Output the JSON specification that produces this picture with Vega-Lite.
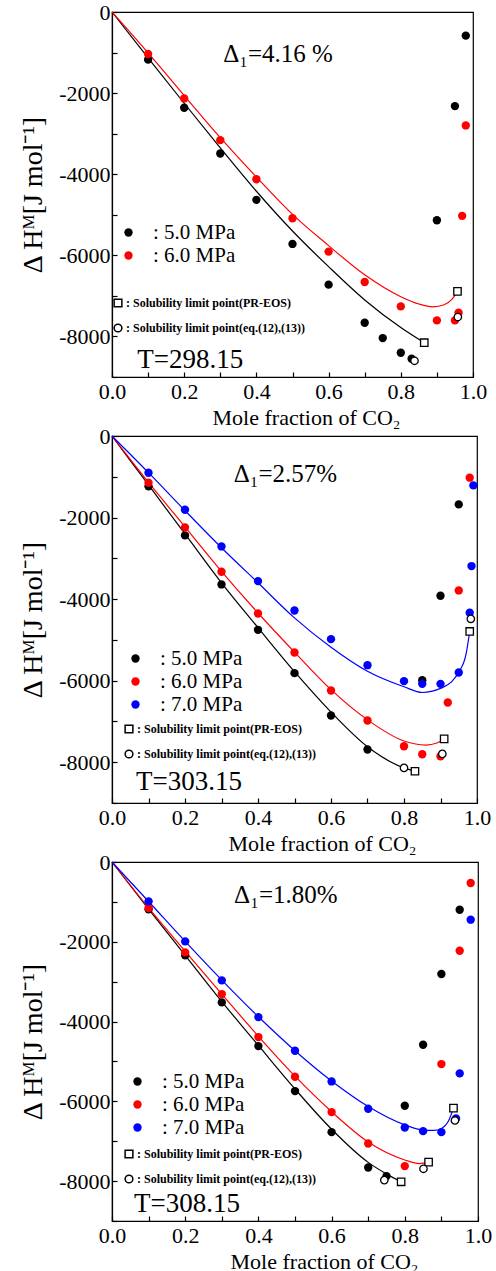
{
"$schema": "https://vega.github.io/schema/vega-lite/v6.json",
"padding": {"left": 19, "top": 0, "right": 5, "bottom": 5},
"background": "white",
"config": {
  "font": "Liberation Serif",
  "view": {"stroke": "black", "strokeWidth": 1.2},
  "axis": {"labelFont": "Liberation Serif", "titleFont": "Liberation Serif", "labelColor": "black", "titleColor": "black", "domainColor": "black", "tickColor": "black", "grid": false, "labelFontSize": 22, "titleFontSize": 22, "titleFontWeight": "normal", "domainWidth": 1.2, "tickWidth": 1.2, "tickSize": -5, "labelFlush": false, "labelOverlap": false},
  "axisX": {"labelPadding": 9, "titleY": 30},
  "axisY": {"labelPadding": 7, "titleFontSize": 28, "titlePadding": 11},
  "legend": {"labelFont": "Liberation Serif", "labelColor": "black", "padding": 0, "labelLimit": 400}
},
"datasets": {
  "pts": [
    {"T":"298.15","p":"5.0 MPa","x":0.1,"y":-1175},{"T":"298.15","p":"5.0 MPa","x":0.2,"y":-2361},{"T":"298.15","p":"5.0 MPa","x":0.3,"y":-3489},{"T":"298.15","p":"5.0 MPa","x":0.4,"y":-4632},{"T":"298.15","p":"5.0 MPa","x":0.5,"y":-5719},{"T":"298.15","p":"5.0 MPa","x":0.6,"y":-6723},{"T":"298.15","p":"5.0 MPa","x":0.7,"y":-7661},{"T":"298.15","p":"5.0 MPa","x":0.75,"y":-8040},{"T":"298.15","p":"5.0 MPa","x":0.8,"y":-8402},{"T":"298.15","p":"5.0 MPa","x":0.83,"y":-8550},{"T":"298.15","p":"5.0 MPa","x":0.9,"y":-5135},{"T":"298.15","p":"5.0 MPa","x":0.95,"y":-2320},{"T":"298.15","p":"5.0 MPa","x":0.98,"y":-583},
    {"T":"298.15","p":"6.0 MPa","x":0.1,"y":-1037},{"T":"298.15","p":"6.0 MPa","x":0.2,"y":-2131},{"T":"298.15","p":"6.0 MPa","x":0.3,"y":-3160},{"T":"298.15","p":"6.0 MPa","x":0.4,"y":-4123},{"T":"298.15","p":"6.0 MPa","x":0.5,"y":-5086},{"T":"298.15","p":"6.0 MPa","x":0.6,"y":-5908},{"T":"298.15","p":"6.0 MPa","x":0.7,"y":-6657},{"T":"298.15","p":"6.0 MPa","x":0.8,"y":-7259},{"T":"298.15","p":"6.0 MPa","x":0.9,"y":-7604},{"T":"298.15","p":"6.0 MPa","x":0.95,"y":-7604},{"T":"298.15","p":"6.0 MPa","x":0.96,"y":-7414},{"T":"298.15","p":"6.0 MPa","x":0.97,"y":-5027},{"T":"298.15","p":"6.0 MPa","x":0.98,"y":-2797},
    {"T":"303.15","p":"5.0 MPa","x":0.1,"y":-1235},{"T":"303.15","p":"5.0 MPa","x":0.2,"y":-2437},{"T":"303.15","p":"5.0 MPa","x":0.3,"y":-3640},{"T":"303.15","p":"5.0 MPa","x":0.4,"y":-4753},{"T":"303.15","p":"5.0 MPa","x":0.5,"y":-5816},{"T":"303.15","p":"5.0 MPa","x":0.6,"y":-6855},{"T":"303.15","p":"5.0 MPa","x":0.7,"y":-7689},{"T":"303.15","p":"5.0 MPa","x":0.85,"y":-5988},{"T":"303.15","p":"5.0 MPa","x":0.9,"y":-3918},{"T":"303.15","p":"5.0 MPa","x":0.95,"y":-1677},
    {"T":"303.15","p":"6.0 MPa","x":0.1,"y":-1145},{"T":"303.15","p":"6.0 MPa","x":0.2,"y":-2241},{"T":"303.15","p":"6.0 MPa","x":0.3,"y":-3329},{"T":"303.15","p":"6.0 MPa","x":0.4,"y":-4352},{"T":"303.15","p":"6.0 MPa","x":0.5,"y":-5309},{"T":"303.15","p":"6.0 MPa","x":0.6,"y":-6242},{"T":"303.15","p":"6.0 MPa","x":0.7,"y":-6978},{"T":"303.15","p":"6.0 MPa","x":0.8,"y":-7607},{"T":"303.15","p":"6.0 MPa","x":0.85,"y":-7804},{"T":"303.15","p":"6.0 MPa","x":0.9,"y":-7853},{"T":"303.15","p":"6.0 MPa","x":0.92,"y":-6536},{"T":"303.15","p":"6.0 MPa","x":0.95,"y":-3787},{"T":"303.15","p":"6.0 MPa","x":0.98,"y":-1022},
    {"T":"303.15","p":"7.0 MPa","x":0.1,"y":-900},{"T":"303.15","p":"7.0 MPa","x":0.2,"y":-1808},{"T":"303.15","p":"7.0 MPa","x":0.3,"y":-2708},{"T":"303.15","p":"7.0 MPa","x":0.4,"y":-3558},{"T":"303.15","p":"7.0 MPa","x":0.5,"y":-4278},{"T":"303.15","p":"7.0 MPa","x":0.6,"y":-4982},{"T":"303.15","p":"7.0 MPa","x":0.7,"y":-5620},{"T":"303.15","p":"7.0 MPa","x":0.8,"y":-6012},{"T":"303.15","p":"7.0 MPa","x":0.85,"y":-6078},{"T":"303.15","p":"7.0 MPa","x":0.9,"y":-6078},{"T":"303.15","p":"7.0 MPa","x":0.95,"y":-5799},{"T":"303.15","p":"7.0 MPa","x":0.98,"y":-4335},{"T":"303.15","p":"7.0 MPa","x":0.985,"y":-3190},{"T":"303.15","p":"7.0 MPa","x":0.99,"y":-1211},
    {"T":"308.15","p":"5.0 MPa","x":0.1,"y":-1187},{"T":"308.15","p":"5.0 MPa","x":0.2,"y":-2341},{"T":"308.15","p":"5.0 MPa","x":0.3,"y":-3520},{"T":"308.15","p":"5.0 MPa","x":0.4,"y":-4615},{"T":"308.15","p":"5.0 MPa","x":0.5,"y":-5743},{"T":"308.15","p":"5.0 MPa","x":0.6,"y":-6772},{"T":"308.15","p":"5.0 MPa","x":0.7,"y":-7658},{"T":"308.15","p":"5.0 MPa","x":0.75,"y":-7875},{"T":"308.15","p":"5.0 MPa","x":0.8,"y":-6111},{"T":"308.15","p":"5.0 MPa","x":0.85,"y":-4581},{"T":"308.15","p":"5.0 MPa","x":0.9,"y":-2809},{"T":"308.15","p":"5.0 MPa","x":0.95,"y":-1196},
    {"T":"308.15","p":"6.0 MPa","x":0.1,"y":-1154},{"T":"308.15","p":"6.0 MPa","x":0.2,"y":-2266},{"T":"308.15","p":"6.0 MPa","x":0.3,"y":-3311},{"T":"308.15","p":"6.0 MPa","x":0.4,"y":-4389},{"T":"308.15","p":"6.0 MPa","x":0.5,"y":-5384},{"T":"308.15","p":"6.0 MPa","x":0.6,"y":-6270},{"T":"308.15","p":"6.0 MPa","x":0.7,"y":-7056},{"T":"308.15","p":"6.0 MPa","x":0.8,"y":-7624},{"T":"308.15","p":"6.0 MPa","x":0.9,"y":-5066},{"T":"308.15","p":"6.0 MPa","x":0.95,"y":-2224},{"T":"308.15","p":"6.0 MPa","x":0.98,"y":-527},
    {"T":"308.15","p":"7.0 MPa","x":0.1,"y":-987},{"T":"308.15","p":"7.0 MPa","x":0.2,"y":-1990},{"T":"308.15","p":"7.0 MPa","x":0.3,"y":-2968},{"T":"308.15","p":"7.0 MPa","x":0.4,"y":-3888},{"T":"308.15","p":"7.0 MPa","x":0.5,"y":-4732},{"T":"308.15","p":"7.0 MPa","x":0.6,"y":-5501},{"T":"308.15","p":"7.0 MPa","x":0.7,"y":-6186},{"T":"308.15","p":"7.0 MPa","x":0.8,"y":-6655},{"T":"308.15","p":"7.0 MPa","x":0.85,"y":-6747},{"T":"308.15","p":"7.0 MPa","x":0.9,"y":-6772},{"T":"308.15","p":"7.0 MPa","x":0.94,"y":-6429},{"T":"308.15","p":"7.0 MPa","x":0.95,"y":-5300},{"T":"308.15","p":"7.0 MPa","x":0.98,"y":-1446}
  ],
  "crv": [
    {"T":"298.15","p":"5.0 MPa","x":0,"y":0},{"T":"298.15","p":"5.0 MPa","x":0.1,"y":-1130},{"T":"298.15","p":"5.0 MPa","x":0.2,"y":-2250},{"T":"298.15","p":"5.0 MPa","x":0.3,"y":-3350},{"T":"298.15","p":"5.0 MPa","x":0.4,"y":-4420},{"T":"298.15","p":"5.0 MPa","x":0.5,"y":-5400},{"T":"298.15","p":"5.0 MPa","x":0.6,"y":-6280},{"T":"298.15","p":"5.0 MPa","x":0.7,"y":-7100},{"T":"298.15","p":"5.0 MPa","x":0.8,"y":-7780},{"T":"298.15","p":"5.0 MPa","x":0.865,"y":-8155},
    {"T":"298.15","p":"6.0 MPa","x":0,"y":0},{"T":"298.15","p":"6.0 MPa","x":0.1,"y":-1010},{"T":"298.15","p":"6.0 MPa","x":0.2,"y":-2060},{"T":"298.15","p":"6.0 MPa","x":0.3,"y":-3100},{"T":"298.15","p":"6.0 MPa","x":0.4,"y":-4070},{"T":"298.15","p":"6.0 MPa","x":0.5,"y":-4990},{"T":"298.15","p":"6.0 MPa","x":0.6,"y":-5760},{"T":"298.15","p":"6.0 MPa","x":0.7,"y":-6480},{"T":"298.15","p":"6.0 MPa","x":0.8,"y":-7020},{"T":"298.15","p":"6.0 MPa","x":0.85,"y":-7200},{"T":"298.15","p":"6.0 MPa","x":0.89,"y":-7270},{"T":"298.15","p":"6.0 MPa","x":0.92,"y":-7220},{"T":"298.15","p":"6.0 MPa","x":0.94,"y":-7100},{"T":"298.15","p":"6.0 MPa","x":0.957,"y":-6888},
    {"T":"303.15","p":"5.0 MPa","x":0,"y":0},{"T":"303.15","p":"5.0 MPa","x":0.1,"y":-1200},{"T":"303.15","p":"5.0 MPa","x":0.2,"y":-2400},{"T":"303.15","p":"5.0 MPa","x":0.3,"y":-3600},{"T":"303.15","p":"5.0 MPa","x":0.4,"y":-4700},{"T":"303.15","p":"5.0 MPa","x":0.5,"y":-5780},{"T":"303.15","p":"5.0 MPa","x":0.6,"y":-6770},{"T":"303.15","p":"5.0 MPa","x":0.7,"y":-7620},{"T":"303.15","p":"5.0 MPa","x":0.8,"y":-8140},{"T":"303.15","p":"5.0 MPa","x":0.83,"y":-8221},
    {"T":"303.15","p":"6.0 MPa","x":0,"y":0},{"T":"303.15","p":"6.0 MPa","x":0.1,"y":-1140},{"T":"303.15","p":"6.0 MPa","x":0.2,"y":-2230},{"T":"303.15","p":"6.0 MPa","x":0.3,"y":-3320},{"T":"303.15","p":"6.0 MPa","x":0.4,"y":-4340},{"T":"303.15","p":"6.0 MPa","x":0.5,"y":-5300},{"T":"303.15","p":"6.0 MPa","x":0.6,"y":-6220},{"T":"303.15","p":"6.0 MPa","x":0.7,"y":-6960},{"T":"303.15","p":"6.0 MPa","x":0.8,"y":-7480},{"T":"303.15","p":"6.0 MPa","x":0.86,"y":-7580},{"T":"303.15","p":"6.0 MPa","x":0.89,"y":-7530},{"T":"303.15","p":"6.0 MPa","x":0.91,"y":-7428},
    {"T":"303.15","p":"7.0 MPa","x":0,"y":0},{"T":"303.15","p":"7.0 MPa","x":0.1,"y":-900},{"T":"303.15","p":"7.0 MPa","x":0.2,"y":-1830},{"T":"303.15","p":"7.0 MPa","x":0.3,"y":-2740},{"T":"303.15","p":"7.0 MPa","x":0.4,"y":-3600},{"T":"303.15","p":"7.0 MPa","x":0.5,"y":-4460},{"T":"303.15","p":"7.0 MPa","x":0.6,"y":-5180},{"T":"303.15","p":"7.0 MPa","x":0.7,"y":-5770},{"T":"303.15","p":"7.0 MPa","x":0.8,"y":-6150},{"T":"303.15","p":"7.0 MPa","x":0.85,"y":-6290},{"T":"303.15","p":"7.0 MPa","x":0.9,"y":-6190},{"T":"303.15","p":"7.0 MPa","x":0.93,"y":-6030},{"T":"303.15","p":"7.0 MPa","x":0.95,"y":-5790},{"T":"303.15","p":"7.0 MPa","x":0.97,"y":-5350},{"T":"303.15","p":"7.0 MPa","x":0.98,"y":-4793},
    {"T":"308.15","p":"5.0 MPa","x":0,"y":0},{"T":"308.15","p":"5.0 MPa","x":0.1,"y":-1180},{"T":"308.15","p":"5.0 MPa","x":0.2,"y":-2340},{"T":"308.15","p":"5.0 MPa","x":0.3,"y":-3500},{"T":"308.15","p":"5.0 MPa","x":0.4,"y":-4600},{"T":"308.15","p":"5.0 MPa","x":0.5,"y":-5690},{"T":"308.15","p":"5.0 MPa","x":0.6,"y":-6700},{"T":"308.15","p":"5.0 MPa","x":0.7,"y":-7530},{"T":"308.15","p":"5.0 MPa","x":0.75,"y":-7820},{"T":"308.15","p":"5.0 MPa","x":0.79,"y":-8017},
    {"T":"308.15","p":"6.0 MPa","x":0,"y":0},{"T":"308.15","p":"6.0 MPa","x":0.1,"y":-1150},{"T":"308.15","p":"6.0 MPa","x":0.2,"y":-2240},{"T":"308.15","p":"6.0 MPa","x":0.3,"y":-3310},{"T":"308.15","p":"6.0 MPa","x":0.4,"y":-4370},{"T":"308.15","p":"6.0 MPa","x":0.5,"y":-5370},{"T":"308.15","p":"6.0 MPa","x":0.6,"y":-6260},{"T":"308.15","p":"6.0 MPa","x":0.7,"y":-7020},{"T":"308.15","p":"6.0 MPa","x":0.8,"y":-7470},{"T":"308.15","p":"6.0 MPa","x":0.84,"y":-7560},{"T":"308.15","p":"6.0 MPa","x":0.865,"y":-7524},
    {"T":"308.15","p":"7.0 MPa","x":0,"y":0},{"T":"308.15","p":"7.0 MPa","x":0.1,"y":-990},{"T":"308.15","p":"7.0 MPa","x":0.2,"y":-1990},{"T":"308.15","p":"7.0 MPa","x":0.3,"y":-2960},{"T":"308.15","p":"7.0 MPa","x":0.4,"y":-3880},{"T":"308.15","p":"7.0 MPa","x":0.5,"y":-4730},{"T":"308.15","p":"7.0 MPa","x":0.6,"y":-5490},{"T":"308.15","p":"7.0 MPa","x":0.7,"y":-6130},{"T":"308.15","p":"7.0 MPa","x":0.8,"y":-6590},{"T":"308.15","p":"7.0 MPa","x":0.85,"y":-6720},{"T":"308.15","p":"7.0 MPa","x":0.88,"y":-6730},{"T":"308.15","p":"7.0 MPa","x":0.9,"y":-6680},{"T":"308.15","p":"7.0 MPa","x":0.92,"y":-6480},{"T":"308.15","p":"7.0 MPa","x":0.933,"y":-6170}
  ],
  "lim": [
    {"T":"298.15","type":"PR-EOS","x":0.865,"y":-8155},{"T":"298.15","type":"PR-EOS","x":0.957,"y":-6888},{"T":"298.15","type":"eq.(12),(13)","x":0.838,"y":-8600},{"T":"298.15","type":"eq.(12),(13)","x":0.958,"y":-7521},
    {"T":"303.15","type":"PR-EOS","x":0.83,"y":-8221},{"T":"303.15","type":"PR-EOS","x":0.91,"y":-7428},{"T":"303.15","type":"PR-EOS","x":0.98,"y":-4793},{"T":"303.15","type":"eq.(12),(13)","x":0.8,"y":-8139},{"T":"303.15","type":"eq.(12),(13)","x":0.905,"y":-7796},{"T":"303.15","type":"eq.(12),(13)","x":0.983,"y":-4483},
    {"T":"308.15","type":"PR-EOS","x":0.79,"y":-8017},{"T":"308.15","type":"PR-EOS","x":0.865,"y":-7524},{"T":"308.15","type":"PR-EOS","x":0.933,"y":-6170},{"T":"308.15","type":"eq.(12),(13)","x":0.744,"y":-7975},{"T":"308.15","type":"eq.(12),(13)","x":0.851,"y":-7691},{"T":"308.15","type":"eq.(12),(13)","x":0.937,"y":-6479}
  ]
},
"bounds": "flush",
"spacing": 59,
"resolve": {"scale": {"color": "independent", "stroke": "independent", "shape": "independent", "x": "independent", "y": "independent"}, "legend": {"color": "independent", "stroke": "independent", "shape": "independent"}},
"vconcat": [
 {
  "width": 361, "height": 365,
  "layer": [
    {"data": {"name": "crv"}, "transform": [{"filter": "datum.T === '298.15'"}], "mark": {"type": "line", "interpolate": "monotone", "strokeWidth": 1.2},
     "encoding": {
      "x": {"field": "x", "type": "quantitative", "scale": {"domain": [0, 1], "nice": false, "zero": false},
        "axis": {"title": "Mole fraction of CO₂", "values": [0,0.1,0.2,0.3,0.4,0.5,0.6,0.7,0.8,0.9,1], "labelExpr": "round(datum.value*10) % 2 === 0 ? format(datum.value, '.1f') : ''", "titleX": 194}},
      "y": {"field": "y", "type": "quantitative", "scale": {"domain": [-9000, 0], "nice": false, "zero": false},
        "axis": {"title": "Δ Hᴹ[J mol⁻¹]", "values": [-9000,-8000,-7000,-6000,-5000,-4000,-3000,-2000,-1000,0], "labelExpr": "datum.value % 2000 === 0 ? '' + datum.value : ''"}},
      "stroke": {"field": "p", "type": "nominal", "scale": {"domain": ["5.0 MPa", "6.0 MPa"], "range": ["#000000", "#ff0000"]},
       "legend": {"orient": "none", "legendX": 6, "legendY": 210, "title": null, "labelExpr": "': ' + datum.label", "labelFontSize": 21, "labelOffset": 14, "rowPadding": 1, "symbolSize": 70, "symbolType": "circle", "symbolStrokeWidth": 0}}}},
    {"data": {"name": "pts"}, "transform": [{"filter": "datum.T === '298.15'"}], "mark": {"type": "circle", "size": 70, "opacity": 1},
     "encoding": {
      "x": {"field": "x", "type": "quantitative", "scale": {"domain": [0, 1], "nice": false, "zero": false}, "axis": {"title": "Mole fraction of CO₂", "values": [0,0.1,0.2,0.3,0.4,0.5,0.6,0.7,0.8,0.9,1], "labelExpr": "round(datum.value*10) % 2 === 0 ? format(datum.value, '.1f') : ''", "titleX": 194}},
      "y": {"field": "y", "type": "quantitative", "scale": {"domain": [-9000, 0], "nice": false, "zero": false}, "axis": {"title": "Δ Hᴹ[J mol⁻¹]", "values": [-9000,-8000,-7000,-6000,-5000,-4000,-3000,-2000,-1000,0], "labelExpr": "datum.value % 2000 === 0 ? '' + datum.value : ''"}},
      "color": {"field": "p", "type": "nominal", "scale": {"domain": ["5.0 MPa", "6.0 MPa"], "range": ["#000000", "#ff0000"]},
       "legend": {"orient": "none", "legendX": 6, "legendY": 210, "title": null, "labelExpr": "': ' + datum.label", "labelFontSize": 21, "labelOffset": 14, "rowPadding": 1, "symbolSize": 70, "symbolType": "circle", "symbolStrokeWidth": 0}}}},
    {"data": {"name": "lim"}, "transform": [{"filter": "datum.T === '298.15'"}], "mark": {"type": "point", "filled": false, "fill": "white", "stroke": "black", "strokeWidth": 1.3, "size": 55, "opacity": 1},
     "encoding": {
      "x": {"field": "x", "type": "quantitative", "scale": {"domain": [0, 1], "nice": false, "zero": false}, "axis": {"title": "Mole fraction of CO₂", "values": [0,0.1,0.2,0.3,0.4,0.5,0.6,0.7,0.8,0.9,1], "labelExpr": "round(datum.value*10) % 2 === 0 ? format(datum.value, '.1f') : ''", "titleX": 194}},
      "y": {"field": "y", "type": "quantitative", "scale": {"domain": [-9000, 0], "nice": false, "zero": false}, "axis": {"title": "Δ Hᴹ[J mol⁻¹]", "values": [-9000,-8000,-7000,-6000,-5000,-4000,-3000,-2000,-1000,0], "labelExpr": "datum.value % 2000 === 0 ? '' + datum.value : ''"}},
      "shape": {"field": "type", "type": "nominal", "scale": {"domain": ["PR-EOS", "eq.(12),(13)"], "range": ["square", "circle"]},
       "legend": {"orient": "none", "legendX": 0, "legendY": 285, "title": null, "labelExpr": "': Solubility limit point(' + datum.label + ')'", "labelFontSize": 12, "labelFontWeight": "bold", "labelOffset": 2, "rowPadding": 11, "symbolSize": 60,
         "encode": {"symbols": {"update": {"stroke": {"value": "black"}, "fill": {"value": "white"}, "strokeWidth": {"value": 1.3}}}}}}}},
    {"data": {"values": [{}]}, "mark": {"type": "text", "font": "Liberation Serif", "fontSize": 25, "align": "center", "baseline": "middle", "color": "black"},
     "encoding": {
      "x": {"datum": 0.46, "type": "quantitative", "scale": {"domain": [0, 1], "nice": false, "zero": false}, "axis": {"title": "Mole fraction of CO₂", "values": [0,0.1,0.2,0.3,0.4,0.5,0.6,0.7,0.8,0.9,1], "labelExpr": "round(datum.value*10) % 2 === 0 ? format(datum.value, '.1f') : ''", "titleX": 194}},
      "y": {"datum": -1044, "type": "quantitative", "scale": {"domain": [-9000, 0], "nice": false, "zero": false}, "axis": {"title": "Δ Hᴹ[J mol⁻¹]", "values": [-9000,-8000,-7000,-6000,-5000,-4000,-3000,-2000,-1000,0], "labelExpr": "datum.value % 2000 === 0 ? '' + datum.value : ''"}},
      "text": {"value": "Δ₁=4.16 %"}}},
    {"data": {"values": [{}]}, "mark": {"type": "text", "font": "Liberation Serif", "fontSize": 27, "align": "left", "baseline": "middle", "color": "black"},
     "encoding": {
      "x": {"datum": 0.07, "type": "quantitative", "scale": {"domain": [0, 1], "nice": false, "zero": false}, "axis": {"title": "Mole fraction of CO₂", "values": [0,0.1,0.2,0.3,0.4,0.5,0.6,0.7,0.8,0.9,1], "labelExpr": "round(datum.value*10) % 2 === 0 ? format(datum.value, '.1f') : ''", "titleX": 194}},
      "y": {"datum": -8575, "type": "quantitative", "scale": {"domain": [-9000, 0], "nice": false, "zero": false}, "axis": {"title": "Δ Hᴹ[J mol⁻¹]", "values": [-9000,-8000,-7000,-6000,-5000,-4000,-3000,-2000,-1000,0], "labelExpr": "datum.value % 2000 === 0 ? '' + datum.value : ''"}},
      "text": {"value": "T=298.15"}}}
  ]
 },
 {
  "width": 365, "height": 367,
  "layer": [
    {"data": {"name": "crv"}, "transform": [{"filter": "datum.T === '303.15'"}], "mark": {"type": "line", "interpolate": "monotone", "strokeWidth": 1.2},
     "encoding": {
      "x": {"field": "x", "type": "quantitative", "scale": {"domain": [0, 1], "nice": false, "zero": false},
        "axis": {"title": "Mole fraction of CO₂", "values": [0,0.1,0.2,0.3,0.4,0.5,0.6,0.7,0.8,0.9,1], "labelExpr": "round(datum.value*10) % 2 === 0 ? format(datum.value, '.1f') : ''", "titleX": 210}},
      "y": {"field": "y", "type": "quantitative", "scale": {"domain": [-9000, 0], "nice": false, "zero": false},
        "axis": {"title": "Δ Hᴹ[J mol⁻¹]", "values": [-9000,-8000,-7000,-6000,-5000,-4000,-3000,-2000,-1000,0], "labelExpr": "datum.value % 2000 === 0 ? '' + datum.value : ''"}},
      "stroke": {"field": "p", "type": "nominal", "scale": {"domain": ["5.0 MPa", "6.0 MPa", "7.0 MPa"], "range": ["#000000", "#ff0000", "#0000ff"]},
       "legend": {"orient": "none", "legendX": 13, "legendY": 212, "title": null, "labelExpr": "': ' + datum.label", "labelFontSize": 21, "labelOffset": 14, "rowPadding": 1, "symbolSize": 70, "symbolType": "circle", "symbolStrokeWidth": 0}}}},
    {"data": {"name": "pts"}, "transform": [{"filter": "datum.T === '303.15'"}], "mark": {"type": "circle", "size": 70, "opacity": 1},
     "encoding": {
      "x": {"field": "x", "type": "quantitative", "scale": {"domain": [0, 1], "nice": false, "zero": false}, "axis": {"title": "Mole fraction of CO₂", "values": [0,0.1,0.2,0.3,0.4,0.5,0.6,0.7,0.8,0.9,1], "labelExpr": "round(datum.value*10) % 2 === 0 ? format(datum.value, '.1f') : ''", "titleX": 210}},
      "y": {"field": "y", "type": "quantitative", "scale": {"domain": [-9000, 0], "nice": false, "zero": false}, "axis": {"title": "Δ Hᴹ[J mol⁻¹]", "values": [-9000,-8000,-7000,-6000,-5000,-4000,-3000,-2000,-1000,0], "labelExpr": "datum.value % 2000 === 0 ? '' + datum.value : ''"}},
      "color": {"field": "p", "type": "nominal", "scale": {"domain": ["5.0 MPa", "6.0 MPa", "7.0 MPa"], "range": ["#000000", "#ff0000", "#0000ff"]},
       "legend": {"orient": "none", "legendX": 13, "legendY": 212, "title": null, "labelExpr": "': ' + datum.label", "labelFontSize": 21, "labelOffset": 14, "rowPadding": 1, "symbolSize": 70, "symbolType": "circle", "symbolStrokeWidth": 0}}}},
    {"data": {"name": "lim"}, "transform": [{"filter": "datum.T === '303.15'"}], "mark": {"type": "point", "filled": false, "fill": "white", "stroke": "black", "strokeWidth": 1.3, "size": 55, "opacity": 1},
     "encoding": {
      "x": {"field": "x", "type": "quantitative", "scale": {"domain": [0, 1], "nice": false, "zero": false}, "axis": {"title": "Mole fraction of CO₂", "values": [0,0.1,0.2,0.3,0.4,0.5,0.6,0.7,0.8,0.9,1], "labelExpr": "round(datum.value*10) % 2 === 0 ? format(datum.value, '.1f') : ''", "titleX": 210}},
      "y": {"field": "y", "type": "quantitative", "scale": {"domain": [-9000, 0], "nice": false, "zero": false}, "axis": {"title": "Δ Hᴹ[J mol⁻¹]", "values": [-9000,-8000,-7000,-6000,-5000,-4000,-3000,-2000,-1000,0], "labelExpr": "datum.value % 2000 === 0 ? '' + datum.value : ''"}},
      "shape": {"field": "type", "type": "nominal", "scale": {"domain": ["PR-EOS", "eq.(12),(13)"], "range": ["square", "circle"]},
       "legend": {"orient": "none", "legendX": 11, "legendY": 287, "title": null, "labelExpr": "': Solubility limit point(' + datum.label + ')'", "labelFontSize": 12, "labelFontWeight": "bold", "labelOffset": 2, "rowPadding": 11, "symbolSize": 60,
         "encode": {"symbols": {"update": {"stroke": {"value": "black"}, "fill": {"value": "white"}, "strokeWidth": {"value": 1.3}}}}}}}},
    {"data": {"values": [{}]}, "mark": {"type": "text", "font": "Liberation Serif", "fontSize": 25, "align": "center", "baseline": "middle", "color": "black"},
     "encoding": {
      "x": {"datum": 0.475, "type": "quantitative", "scale": {"domain": [0, 1], "nice": false, "zero": false}, "axis": {"title": "Mole fraction of CO₂", "values": [0,0.1,0.2,0.3,0.4,0.5,0.6,0.7,0.8,0.9,1], "labelExpr": "round(datum.value*10) % 2 === 0 ? format(datum.value, '.1f') : ''", "titleX": 210}},
      "y": {"datum": -932, "type": "quantitative", "scale": {"domain": [-9000, 0], "nice": false, "zero": false}, "axis": {"title": "Δ Hᴹ[J mol⁻¹]", "values": [-9000,-8000,-7000,-6000,-5000,-4000,-3000,-2000,-1000,0], "labelExpr": "datum.value % 2000 === 0 ? '' + datum.value : ''"}},
      "text": {"value": "Δ₁=2.57%"}}},
    {"data": {"values": [{}]}, "mark": {"type": "text", "font": "Liberation Serif", "fontSize": 27, "align": "left", "baseline": "middle", "color": "black"},
     "encoding": {
      "x": {"datum": 0.066, "type": "quantitative", "scale": {"domain": [0, 1], "nice": false, "zero": false}, "axis": {"title": "Mole fraction of CO₂", "values": [0,0.1,0.2,0.3,0.4,0.5,0.6,0.7,0.8,0.9,1], "labelExpr": "round(datum.value*10) % 2 === 0 ? format(datum.value, '.1f') : ''", "titleX": 210}},
      "y": {"datum": -8490, "type": "quantitative", "scale": {"domain": [-9000, 0], "nice": false, "zero": false}, "axis": {"title": "Δ Hᴹ[J mol⁻¹]", "values": [-9000,-8000,-7000,-6000,-5000,-4000,-3000,-2000,-1000,0], "labelExpr": "datum.value % 2000 === 0 ? '' + datum.value : ''"}},
      "text": {"value": "T=303.15"}}}
  ]
 },
 {
  "width": 366, "height": 359,
  "layer": [
    {"data": {"name": "crv"}, "transform": [{"filter": "datum.T === '308.15'"}], "mark": {"type": "line", "interpolate": "monotone", "strokeWidth": 1.2},
     "encoding": {
      "x": {"field": "x", "type": "quantitative", "scale": {"domain": [0, 1], "nice": false, "zero": false},
        "axis": {"title": "Mole fraction of CO₂", "values": [0,0.1,0.2,0.3,0.4,0.5,0.6,0.7,0.8,0.9,1], "labelExpr": "round(datum.value*10) % 2 === 0 ? format(datum.value, '.1f') : ''", "titleX": 212}},
      "y": {"field": "y", "type": "quantitative", "scale": {"domain": [-9000, 0], "nice": false, "zero": false},
        "axis": {"title": "Δ Hᴹ[J mol⁻¹]", "values": [-9000,-8000,-7000,-6000,-5000,-4000,-3000,-2000,-1000,0], "labelExpr": "datum.value % 2000 === 0 ? '' + datum.value : ''"}},
      "stroke": {"field": "p", "type": "nominal", "scale": {"domain": ["5.0 MPa", "6.0 MPa", "7.0 MPa"], "range": ["#000000", "#ff0000", "#0000ff"]},
       "legend": {"orient": "none", "legendX": 15, "legendY": 209, "title": null, "labelExpr": "': ' + datum.label", "labelFontSize": 21, "labelOffset": 14, "rowPadding": 1, "symbolSize": 70, "symbolType": "circle", "symbolStrokeWidth": 0}}}},
    {"data": {"name": "pts"}, "transform": [{"filter": "datum.T === '308.15'"}], "mark": {"type": "circle", "size": 70, "opacity": 1},
     "encoding": {
      "x": {"field": "x", "type": "quantitative", "scale": {"domain": [0, 1], "nice": false, "zero": false}, "axis": {"title": "Mole fraction of CO₂", "values": [0,0.1,0.2,0.3,0.4,0.5,0.6,0.7,0.8,0.9,1], "labelExpr": "round(datum.value*10) % 2 === 0 ? format(datum.value, '.1f') : ''", "titleX": 212}},
      "y": {"field": "y", "type": "quantitative", "scale": {"domain": [-9000, 0], "nice": false, "zero": false}, "axis": {"title": "Δ Hᴹ[J mol⁻¹]", "values": [-9000,-8000,-7000,-6000,-5000,-4000,-3000,-2000,-1000,0], "labelExpr": "datum.value % 2000 === 0 ? '' + datum.value : ''"}},
      "color": {"field": "p", "type": "nominal", "scale": {"domain": ["5.0 MPa", "6.0 MPa", "7.0 MPa"], "range": ["#000000", "#ff0000", "#0000ff"]},
       "legend": {"orient": "none", "legendX": 15, "legendY": 209, "title": null, "labelExpr": "': ' + datum.label", "labelFontSize": 21, "labelOffset": 14, "rowPadding": 1, "symbolSize": 70, "symbolType": "circle", "symbolStrokeWidth": 0}}}},
    {"data": {"name": "lim"}, "transform": [{"filter": "datum.T === '308.15'"}], "mark": {"type": "point", "filled": false, "fill": "white", "stroke": "black", "strokeWidth": 1.3, "size": 55, "opacity": 1},
     "encoding": {
      "x": {"field": "x", "type": "quantitative", "scale": {"domain": [0, 1], "nice": false, "zero": false}, "axis": {"title": "Mole fraction of CO₂", "values": [0,0.1,0.2,0.3,0.4,0.5,0.6,0.7,0.8,0.9,1], "labelExpr": "round(datum.value*10) % 2 === 0 ? format(datum.value, '.1f') : ''", "titleX": 212}},
      "y": {"field": "y", "type": "quantitative", "scale": {"domain": [-9000, 0], "nice": false, "zero": false}, "axis": {"title": "Δ Hᴹ[J mol⁻¹]", "values": [-9000,-8000,-7000,-6000,-5000,-4000,-3000,-2000,-1000,0], "labelExpr": "datum.value % 2000 === 0 ? '' + datum.value : ''"}},
      "shape": {"field": "type", "type": "nominal", "scale": {"domain": ["PR-EOS", "eq.(12),(13)"], "range": ["square", "circle"]},
       "legend": {"orient": "none", "legendX": 11, "legendY": 286, "title": null, "labelExpr": "': Solubility limit point(' + datum.label + ')'", "labelFontSize": 12, "labelFontWeight": "bold", "labelOffset": 2, "rowPadding": 11, "symbolSize": 60,
         "encode": {"symbols": {"update": {"stroke": {"value": "black"}, "fill": {"value": "white"}, "strokeWidth": {"value": 1.3}}}}}}}},
    {"data": {"values": [{}]}, "mark": {"type": "text", "font": "Liberation Serif", "fontSize": 25, "align": "center", "baseline": "middle", "color": "black"},
     "encoding": {
      "x": {"datum": 0.475, "type": "quantitative", "scale": {"domain": [0, 1], "nice": false, "zero": false}, "axis": {"title": "Mole fraction of CO₂", "values": [0,0.1,0.2,0.3,0.4,0.5,0.6,0.7,0.8,0.9,1], "labelExpr": "round(datum.value*10) % 2 === 0 ? format(datum.value, '.1f') : ''", "titleX": 212}},
      "y": {"datum": -828, "type": "quantitative", "scale": {"domain": [-9000, 0], "nice": false, "zero": false}, "axis": {"title": "Δ Hᴹ[J mol⁻¹]", "values": [-9000,-8000,-7000,-6000,-5000,-4000,-3000,-2000,-1000,0], "labelExpr": "datum.value % 2000 === 0 ? '' + datum.value : ''"}},
      "text": {"value": "Δ₁=1.80%"}}},
    {"data": {"values": [{}]}, "mark": {"type": "text", "font": "Liberation Serif", "fontSize": 27, "align": "left", "baseline": "middle", "color": "black"},
     "encoding": {
      "x": {"datum": 0.06, "type": "quantitative", "scale": {"domain": [0, 1], "nice": false, "zero": false}, "axis": {"title": "Mole fraction of CO₂", "values": [0,0.1,0.2,0.3,0.4,0.5,0.6,0.7,0.8,0.9,1], "labelExpr": "round(datum.value*10) % 2 === 0 ? format(datum.value, '.1f') : ''", "titleX": 212}},
      "y": {"datum": -8576, "type": "quantitative", "scale": {"domain": [-9000, 0], "nice": false, "zero": false}, "axis": {"title": "Δ Hᴹ[J mol⁻¹]", "values": [-9000,-8000,-7000,-6000,-5000,-4000,-3000,-2000,-1000,0], "labelExpr": "datum.value % 2000 === 0 ? '' + datum.value : ''"}},
      "text": {"value": "T=308.15"}}}
  ]
 }
]
}
